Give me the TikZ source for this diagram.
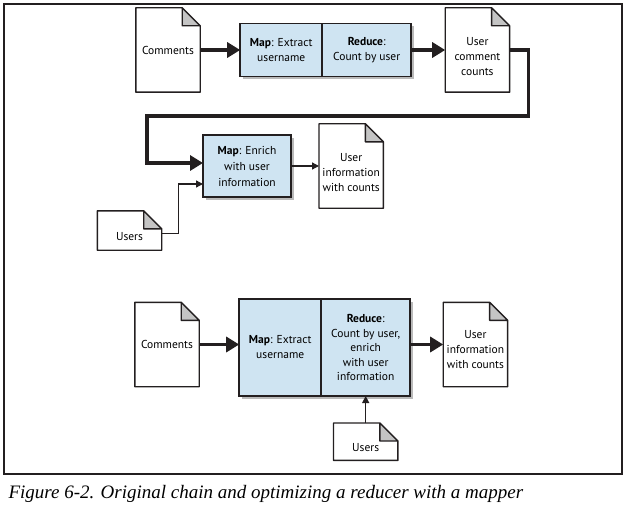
\documentclass[tikz,border=0pt]{standalone}
\usepackage{fontspec}
\setmainfont{PT Sans}
\newfontfamily\captionfont{Liberation Serif}
\usetikzlibrary{positioning, arrows.meta, shadows}

\definecolor{boxblue}{HTML}{CFE4F2}
\definecolor{foldgray}{HTML}{C4C4C4}
\definecolor{inkline}{HTML}{231F20}

\tikzset{
  doc/.style={minimum width=64pt, minimum height=84pt, inner sep=1pt, align=center,
    append after command={\pgfextra{
      \fill[foldgray] ([xshift=-18pt]\tikzlastnode.north east) -- ([yshift=-18pt]\tikzlastnode.north east)
        -- ([xshift=-18pt,yshift=-18pt]\tikzlastnode.north east) -- cycle;
      \draw[inkline, line width=1.4pt, line join=round] (\tikzlastnode.north west)
        -- ([xshift=-18pt]\tikzlastnode.north east) -- ([yshift=-18pt]\tikzlastnode.north east)
        -- (\tikzlastnode.south east) -- (\tikzlastnode.south west) -- cycle
        ([xshift=-18pt]\tikzlastnode.north east) -- ([xshift=-18pt,yshift=-18pt]\tikzlastnode.north east)
        -- ([yshift=-18pt]\tikzlastnode.north east);
    }}},
  smalldoc/.style={doc, minimum height=39pt},
  lowtext/.style={text height=#1},
  lowtext/.default=51pt,
  jobbox/.style={draw=inkline, line width=1.6pt, fill=boxblue, outer sep=0pt, inner sep=2pt,
    minimum height=53pt, align=center,
    drop shadow={shadow xshift=2.5pt, shadow yshift=-2.5pt, fill=black!60, opacity=0.45}},
  mapbox/.style={jobbox, minimum width=82pt},
  redbox/.style={jobbox, minimum width=89pt},
  bigarrow/.style={inkline, line width=3.6pt, -{Triangle[length=13pt,width=15pt]}},
  thinarrow/.style={inkline, line width=1.3pt, -{Triangle[length=7pt,width=7pt]}}
}

\begin{document}
\begin{tikzpicture}[x=1pt, y=-1pt, font=\fontsize{11.5}{15}\selectfont]
                \useasboundingbox (0,0) rectangle (626,508);
                \draw[inkline, line width=1.2pt] (4,4) rectangle (622,474);

                % original chain
                \node[doc] (comments1) at (168,50) {Comments};
                \node[mapbox] (map1) [right=40pt of comments1] {\textbf{Map}: Extract\\username};
                \node[redbox] (reduce1) [right=0pt of map1] {\textbf{Reduce}:\\Count by user};
                \node[doc, lowtext] (counts) [right=34pt of reduce1] {User\\comment\\counts};

                \node[mapbox, minimum width=88pt, minimum height=62pt, font=\fontsize{11.5}{16}\selectfont]
                    (enrich) at (247,166) {\textbf{Map}: Enrich\\with user\\information};
                \node[doc, lowtext] (info1) [right=28pt of enrich] {User\\information\\with counts};
                \node[smalldoc, lowtext=19.5pt] (users1) at (129.5,230.5) {Users};
                \coordinate (turn) at (147,116);

                % reducer with the mapper folded in
                \node[doc] (comments2) at (167,344.5) {Comments};
                \node[mapbox, minimum height=97pt] (map2) [right=40pt of comments2, yshift=-3pt] {\textbf{Map}: Extract\\username};
                \node[redbox, minimum height=97pt, font=\fontsize{11.5}{14.5}\selectfont] (reduce2) [right=0pt of map2]
                    {\textbf{Reduce}:\\Count by user,\\enrich\\with user\\information};
                \node[doc, lowtext=48pt] (info2) [right=33pt of reduce2, yshift=3pt] {User\\information\\with counts};
                \node[smalldoc, lowtext=19.5pt, minimum height=37pt] (users2) [below=27pt of reduce2] {Users};

                \draw[bigarrow] (comments1.east) -- (comments1.east -| map1.west);
                \draw[bigarrow] (reduce1.east) -- (reduce1.east -| counts.west);
                \draw[bigarrow] (counts.east) -- ++(19,0) |- (turn) |- ([yshift=3pt]enrich.west);
                \draw[thinarrow] (enrich.east) -- (enrich.east -| info1.west);
                \draw[thinarrow] ([yshift=-3pt]users1.east) -- ++(17,0) |- ([yshift=-18pt]enrich.west);

                \draw[bigarrow] (comments2.east) -- (comments2.east -| map2.west);
                \draw[bigarrow] (reduce2.east |- info2.east) -- (info2.west);
                \draw[thinarrow] (users2.north) -- (reduce2.south);

                \node[anchor=base west, font=\captionfont\itshape\fontsize{19}{21}\selectfont]
                    (caption) at (5,498) {Figure 6-2. Original chain and optimizing a reducer with a mapper};
            \end{tikzpicture}
\end{document}
